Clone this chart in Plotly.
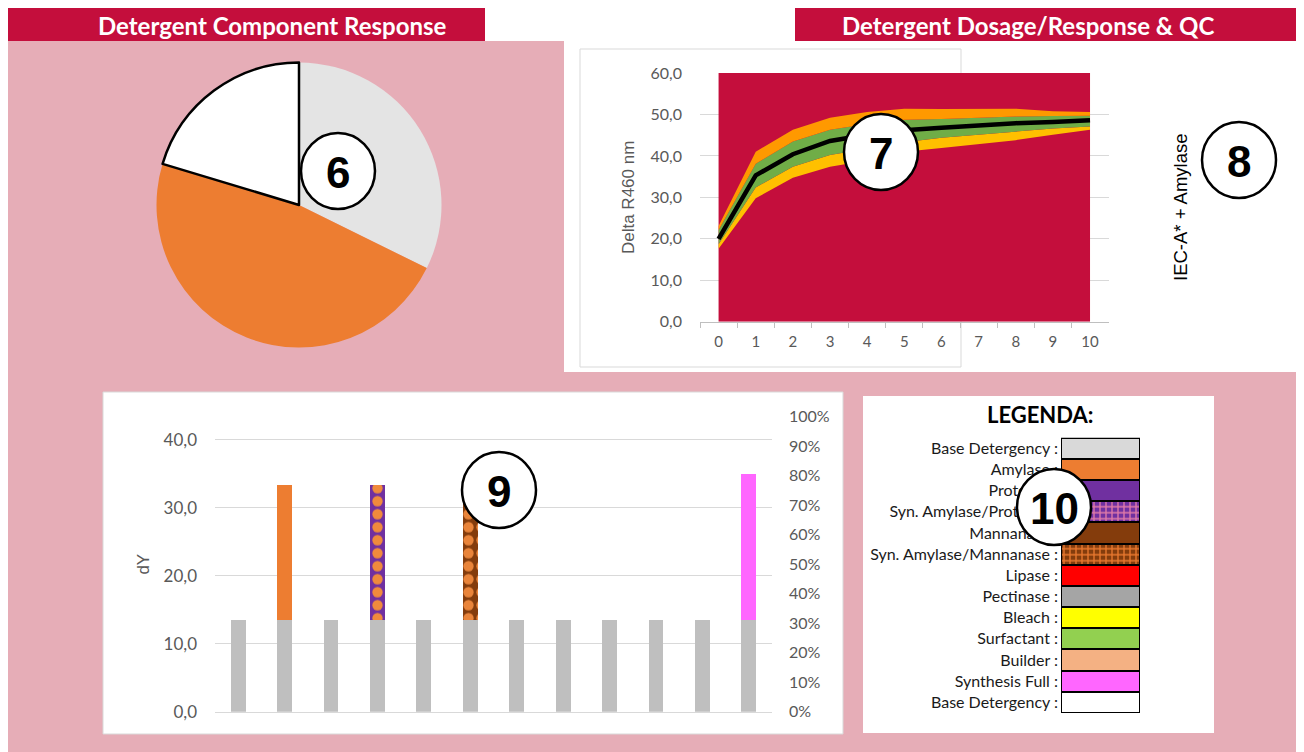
import plotly.graph_objects as go

W, H = 1304, 752

# ---------------- data ----------------
# (6) pie: detergent component response
pie_labels = ["Base Detergency", "Amylase", "Remaining"]
pie_values = [13.5, 19.8, 8.5]
pie_colors = ["#E4E4E4", "#ED7D31", "#FFFFFF"]

# (7) dosage / response with QC bands
dose = ["0", "1", "2", "3", "4", "5", "6", "7", "8", "9", "10"]
background_level = [60.0] * 11
yellow_low = [17.6, 29.8, 34.7, 37.4, 38.9, 41.0, 41.9, 42.9, 43.8, 45.1, 46.3]
green_low = [18.7, 32.4, 37.4, 40.2, 41.7, 43.3, 44.4, 45.1, 45.9, 46.6, 47.1]
green_high = [22.1, 38.1, 43.5, 46.3, 47.7, 48.7, 48.9, 49.2, 49.5, 49.6, 49.7]
orange_high = [23.1, 41.0, 46.3, 49.2, 50.6, 51.4, 51.3, 51.4, 51.4, 50.8, 50.6]
response = [20.0, 35.3, 40.4, 43.6, 45.1, 46.2, 46.8, 47.4, 47.9, 48.2, 48.6]

# (9) component bars
tests = list(range(1, 13))
base_response = [13.5] * 12
total_response = [13.5, 33.3, 13.5, 33.3, 13.5, 33.3, 13.5, 13.5, 13.5, 13.5, 13.5, 35.0]
top_component = [None, "Amylase", None, "Syn. Amylase/Protease", None, "Syn. Amylase/Mannanase",
                 None, None, None, None, None, "Synthesis Full"]

# (10) legend
legend_labels = ["Base Detergency :", "Amylase :", "Protease :", "Syn. Amylase/Protease :",
                 "Mannanase :", "Syn. Amylase/Mannanase :", "Lipase :", "Pectinase :",
                 "Bleach :", "Surfactant :", "Builder :", "Synthesis Full :", "Base Detergency :"]
legend_colors = ["#D9D9D9", "#ED7D31", "#7030A0", "#7030A0", "#843C0C", "#843C0C", "#FF0000",
                 "#A5A5A5", "#FFFF00", "#92D050", "#F4B183", "#FF66FF", "#FFFFFF"]

# styles for components (colour, pattern shape, pattern colour)
component_style = {
    "Amylase": ("#ED7D31", "", None),
    "Syn. Amylase/Protease": ("#7030A0", ".", "#F08A3C"),
    "Syn. Amylase/Mannanase": ("#843C0C", ".", "#E9843A"),
    "Synthesis Full": ("#FF66FF", "", None),
}
legend_pattern = {3: ("+", "#E07AA8"), 5: ("+", "#E8782E")}

# ---------------- helpers ----------------
OFF = 8  # page offset of the figure inside the browser window

def fx(x):
    return (x - OFF) / W

def fy(y):
    return 1 - (y - OFF) / H

CRIMSON = "#C40E3C"
PINK = "#E6ADB7"
GRID = "#D9D9D9"
TXT = "#595959"
FONT = "Lato"

fig = go.Figure()

# pie
fig.add_trace(go.Pie(
    labels=pie_labels, values=pie_values, sort=False, direction="clockwise", rotation=0,
    marker=dict(colors=pie_colors, line=dict(color=["rgba(0,0,0,0)", "rgba(0,0,0,0)", "#000000"],
                                             width=[0, 0, 2.5])),
    textinfo="none", hoverinfo="label+value", showlegend=False,
    domain=dict(x=[fx(156.5), fx(441.5)], y=[fy(347.5), fy(62.5)]),
))

# chart 7
fig.add_trace(go.Scatter(x=dose, y=background_level, fill="tozeroy", mode="lines",
                         line=dict(width=0, color=CRIMSON), fillcolor=CRIMSON,
                         xaxis="x", yaxis="y", hoverinfo="skip"))
fig.add_trace(go.Scatter(x=dose, y=yellow_low, mode="lines", line=dict(width=0),
                         xaxis="x", yaxis="y", hoverinfo="skip"))
fig.add_trace(go.Scatter(x=dose, y=green_low, mode="lines", line=dict(width=0),
                         fill="tonexty", fillcolor="#FFC000", xaxis="x", yaxis="y", hoverinfo="skip"))
fig.add_trace(go.Scatter(x=dose, y=green_low, mode="lines", line=dict(width=0),
                         xaxis="x", yaxis="y", hoverinfo="skip"))
fig.add_trace(go.Scatter(x=dose, y=green_high, mode="lines", line=dict(width=0),
                         fill="tonexty", fillcolor="#70AD47", xaxis="x", yaxis="y", hoverinfo="skip"))
fig.add_trace(go.Scatter(x=dose, y=green_high, mode="lines", line=dict(width=0),
                         xaxis="x", yaxis="y", hoverinfo="skip"))
fig.add_trace(go.Scatter(x=dose, y=orange_high, mode="lines", line=dict(width=0),
                         fill="tonexty", fillcolor="#FF9900", xaxis="x", yaxis="y", hoverinfo="skip"))
fig.add_trace(go.Scatter(x=dose, y=response, mode="lines", line=dict(width=4.5, color="#000000"),
                         xaxis="x", yaxis="y"))

# chart 9
fig.add_trace(go.Bar(x=tests, y=base_response, width=0.32, marker=dict(color="#BFBFBF", line=dict(width=0)),
                     xaxis="x2", yaxis="y2"))
for comp, (col, shape, fg) in component_style.items():
    xs = [t for t, c in zip(tests, top_component) if c == comp]
    ys = [tot - b for tot, b, c in zip(total_response, base_response, top_component) if c == comp]
    marker = dict(color=col, line=dict(width=0))
    if shape:
        marker["pattern"] = dict(shape=shape, bgcolor=col, fgcolor=fg, fgopacity=1,
                                 size=13, solidity=0.5, fillmode="replace")
    fig.add_trace(go.Bar(x=xs, y=ys, width=0.32, marker=marker, name=comp, xaxis="x2", yaxis="y2"))
fig.add_trace(go.Scatter(x=[tests[0]], y=[0], mode="markers", marker=dict(opacity=0),
                         xaxis="x2", yaxis="y3", hoverinfo="skip"))

# legend (10)
rows = list(range(len(legend_labels)))
plain = [i for i in rows if i not in legend_pattern]
fig.add_trace(go.Bar(y=plain, x=[1] * len(plain), orientation="h", width=1,
                     marker=dict(color=[legend_colors[i] for i in plain], line=dict(color="#000000", width=2)),
                     xaxis="x3", yaxis="y4", hoverinfo="skip"))
for i, (shape, fg) in legend_pattern.items():
    fig.add_trace(go.Bar(y=[i], x=[1], orientation="h", width=1,
                         marker=dict(color=legend_colors[i], line=dict(color="#000000", width=2),
                                     pattern=dict(shape=shape, bgcolor=legend_colors[i], fgcolor=fg,
                                                  fgopacity=1, size=6, solidity=0.4, fillmode="replace")),
                         xaxis="x3", yaxis="y4", hoverinfo="skip"))

shapes = [
    dict(type="rect", xref="paper", yref="paper", x0=fx(8), x1=fx(1312), y0=fy(760), y1=fy(41),
         fillcolor=PINK, line=dict(width=0), layer="below"),
    dict(type="rect", xref="paper", yref="paper", x0=fx(8), x1=fx(485), y0=fy(41), y1=fy(8),
         fillcolor=CRIMSON, line=dict(width=0), layer="below"),
    dict(type="rect", xref="paper", yref="paper", x0=fx(795), x1=fx(1312), y0=fy(41), y1=fy(8),
         fillcolor=CRIMSON, line=dict(width=0), layer="below"),
    dict(type="rect", xref="paper", yref="paper", x0=fx(564), x1=fx(1312), y0=fy(372), y1=fy(41),
         fillcolor="#FFFFFF", line=dict(width=0), layer="below"),
    dict(type="rect", xref="paper", yref="paper", x0=fx(580), x1=fx(961), y0=fy(367), y1=fy(49),
         fillcolor="#FFFFFF", line=dict(width=1, color=GRID), layer="below"),
    dict(type="rect", xref="paper", yref="paper", x0=fx(103), x1=fx(843), y0=fy(734), y1=fy(392),
         fillcolor="#FFFFFF", line=dict(width=1, color=GRID), layer="below"),
    dict(type="rect", xref="paper", yref="paper", x0=fx(863), x1=fx(1214), y0=fy(733), y1=fy(396),
         fillcolor="#FFFFFF", line=dict(width=0), layer="below"),
]

def ann(text, x, y, size, color, family=FONT, angle=0):
    return dict(text=text, x=fx(x), y=fy(y), xref="paper", yref="paper", showarrow=False,
                xanchor="center", yanchor="middle", textangle=angle,
                font=dict(family=family, size=size, color=color))

annotations = [
    ann("<b>Detergent Component Response</b>", 272, 25, 24, "#FFFFFF"),
    ann("<b>Detergent Dosage/Response &amp; QC</b>", 1028, 25, 24, "#FFFFFF"),
    ann("IEC-A* + Amylase", 1180, 207, 18.5, "#000000", family="Liberation Sans", angle=-90),
    ann("<b>LEGENDA:</b>", 1040, 414, 22, "#000000"),
]

for num, cx, cy in [("6", 338, 171), ("7", 881, 152), ("8", 1239, 160), ("9", 499, 490), ("10", 1054, 507)]:
    shapes.append(dict(type="circle", xref="paper", yref="paper", x0=fx(cx - 37), x1=fx(cx + 37),
                       y0=fy(cy + 38), y1=fy(cy - 38), fillcolor="#FFFFFF",
                       line=dict(color="#000000", width=2.5), layer="above"))
    annotations.append(ann("<b>%s</b>" % num, cx, cy + 1, 44, "#000000", family="Liberation Sans"))

fig.update_layout(
    width=W, height=H, margin=dict(l=0, r=0, t=0, b=0, autoexpand=False),
    paper_bgcolor="#FFFFFF", plot_bgcolor="rgba(0,0,0,0)",
    separators=",.", showlegend=False, barmode="stack", hovermode="closest",
    font=dict(family=FONT, color=TXT),
    shapes=shapes, annotations=annotations,
    xaxis=dict(domain=[fx(700), fx(1108.6)], anchor="y", type="category", range=[-0.5, 10.5],
               tickson="boundaries", ticks="outside", ticklen=5, tickcolor="#BFBFBF",
               showline=True, linecolor="#BFBFBF", showgrid=False, zeroline=False, automargin=False,
               tickfont=dict(family=FONT, size=15, color=TXT), ticklabelstandoff=6),
    yaxis=dict(domain=[fy(321.7), fy(73)], anchor="x", range=[0, 60], dtick=10, tickformat=".1f",
               showgrid=True, gridcolor=GRID, zeroline=False, ticks="", automargin=False,
               tickfont=dict(family=FONT, size=16, color=TXT), ticklabelstandoff=17,
               title=dict(text="Delta R460 nm", font=dict(family="Liberation Sans", size=17, color=TXT),
                          standoff=11)),
    xaxis2=dict(domain=[fx(215), fx(772)], anchor="y2", range=[0.5, 12.5], showticklabels=False,
                ticks="", showgrid=False, zeroline=False, showline=True, linecolor=GRID, automargin=False),
    yaxis2=dict(domain=[fy(711.7), fy(416.7)], anchor="x2", range=[0, 43.4],
                tickvals=[0, 10, 20, 30, 40], tickformat=".1f", showgrid=True, gridcolor=GRID,
                zeroline=False, ticks="", tickfont=dict(family=FONT, size=17, color=TXT),
                ticklabelstandoff=17, automargin=False,
                title=dict(text="dY", font=dict(family="Liberation Sans", size=17, color=TXT), standoff=9)),
    yaxis3=dict(overlaying="y2", side="right", anchor="x2", range=[0, 1], dtick=0.1, tickformat=".0%",
                showgrid=False, zeroline=False, ticks="", tickfont=dict(family=FONT, size=16, color=TXT),
                ticklabelstandoff=16, automargin=False),
    xaxis3=dict(domain=[fx(1061), fx(1140)], anchor="y4", range=[0, 1], visible=False, automargin=False),
    yaxis4=dict(domain=[fy(713), fy(437.7)], anchor="x3", range=[12.5, -0.5],
                tickvals=rows, ticktext=legend_labels,
                showgrid=False, zeroline=False, ticks="", showline=False, automargin=False,
                tickfont=dict(family=FONT, size=16, color="#1A1A1A"), ticklabelstandoff=2),
)

fig.write_html("out.html")
